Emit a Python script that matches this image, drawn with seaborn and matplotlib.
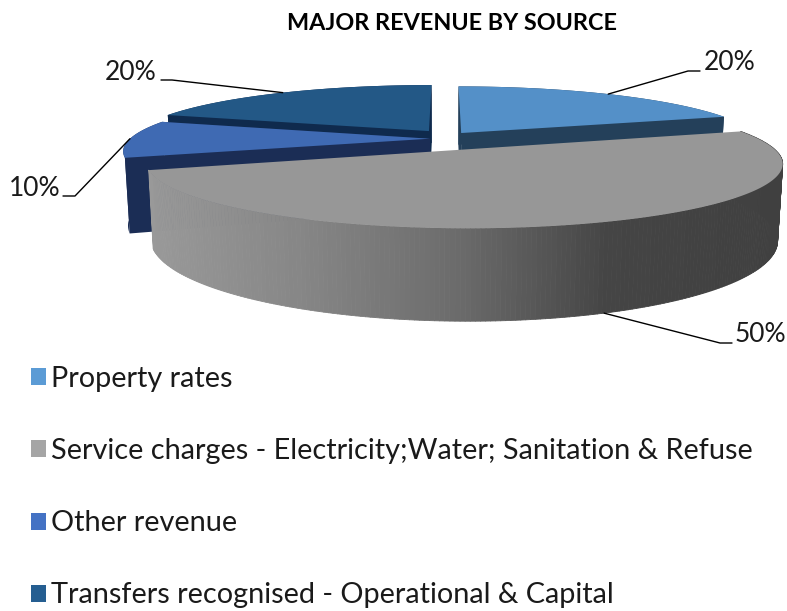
import numpy as np
import matplotlib
matplotlib.use('Agg')
import matplotlib.pyplot as plt
from matplotlib.patches import Patch
from matplotlib.collections import PolyCollection
import seaborn as sns

# Chart data
categories = ['Property rates',
              'Service charges - Electricity;Water; Sanitation & Refuse',
              'Other revenue',
              'Transfers recognised - Operational & Capital']
shares = [20, 50, 10, 20]

# Colours: legend, top face, side wall
legend_colors = ['#5b9bd5', '#a5a5a5', '#4472c4', '#255e91']
top_colors = ['#5490c8', '#979797', '#3f6ab3', '#235886']
wall_colors = ['#24405a', '#979797', '#1b2d55', '#0f2a4d']

sns.set_theme(style='white')
plt.rcParams['font.family'] = ['Lato', 'DejaVu Sans']

fig, ax = plt.subplots(figsize=(7.87, 6.11), dpi=100)
ax.set_position([0, 0, 1, 1])
ax.set_xlim(0, 787)
ax.set_ylim(611, 0)
ax.axis('off')

# Perspective camera for the tilted pie
CX, CY, RX, RY, K = 445, 138.7, 300, 58, 0.2
DEPTH, SHRINK = 71, 0.985
explode = [(0.055, 0.10), (0.06, -0.18), (-0.05, 0.0), (-0.055, 0.135)]


def project(x, y, down=False):
    s = 1 / (1 + K * y)
    px = RX * x * s
    py = -RY * y * s
    if down:
        return CX + px * SHRINK, CY + py + DEPTH * s
    return CX + px, CY + py


def rim(i, t0, t1, n=120):
    t = np.radians(np.linspace(t0, t1, n))
    return explode[i][0] + np.sin(t), explode[i][1] + np.cos(t)


def slab(i, t0, t1, color):
    # top face and flat side walls of one slice
    ex, ey = explode[i]
    xs, ys = rim(i, t0, t1)
    for t in (t0, t1):
        a = np.radians(t)
        rx, ry = ex + np.sin(a), ey + np.cos(a)
        p0 = project(ex, ey)
        p1 = project(rx, ry)
        p2 = project(rx, ry, True)
        p3 = project(ex, ey, True)
        ax.fill([p0[0], p1[0], p2[0], p3[0]], [p0[1], p1[1], p2[1], p3[1]],
                color=wall_colors[i], lw=0)
    tx, ty = project(xs, ys)
    bx, by = project(xs, ys, True)
    ax.fill(np.r_[tx, bx[::-1]], np.r_[ty, by[::-1]], color=wall_colors[i], lw=0)
    px, py = project(ex, ey)
    ax.fill(np.r_[px, tx], np.r_[py, ty], color=color, lw=0)


fractions = np.array(shares) / sum(shares) * 360
starts = np.r_[0, np.cumsum(fractions)[:-1]]
ends = starts + fractions

# back slices first, the big front slice goes on top
for i in [3, 2, 0]:
    slab(i, starts[i], ends[i], top_colors[i])

# service charges wall has a left to right shading
xs, ys = rim(1, starts[1], ends[1], 240)
tx, ty = project(xs, ys)
bx, by = project(xs, ys, True)
ramp = sns.blend_palette(['#404040', '#454545', '#6c6c6c', '#868686', '#999999'], 256)
pos = np.interp(0.5 * (tx[:-1] + tx[1:]), [150, 700, 785], [1, 0.1, 0])
quads = [[(tx[j], ty[j]), (tx[j + 1], ty[j + 1]), (bx[j + 1], by[j + 1]), (bx[j], by[j])]
         for j in range(len(tx) - 1)]
cols = [ramp[int(v * 255)] for v in pos]
ax.add_collection(PolyCollection(quads, facecolors=cols, edgecolors=cols, linewidths=0.6))
px, py = project(*explode[1])
ax.fill(np.r_[px, tx], np.r_[py, ty], color=top_colors[1], lw=0)

# Percent labels with leader lines from the middle of each slice
label_pos = [(730, 62), (760, 335), (35, 189), (131, 73)]
elbows = [[(688, 71), (700, 71)], [(720, 343), (732, 343)],
          [(75, 196), (63, 196)], [(172, 80), (161, 80)]]
leader_shift = [0, -3, 0, 0]
for i in range(4):
    mid = starts[i] + fractions[i] / 2 + leader_shift[i]
    a = np.radians(mid)
    start = project(explode[i][0] + np.sin(a), explode[i][1] + np.cos(a), i == 1)
    pts = [start] + elbows[i]
    ax.plot([p[0] for p in pts], [p[1] for p in pts], color='black', lw=1)
    ax.text(label_pos[i][0], label_pos[i][1], f'{shares[i]}%', ha='center', va='center',
            fontsize=19, color='#1a1a1a')

ax.text(452, 24, 'MAJOR REVENUE BY SOURCE', ha='center', va='center',
        fontsize=16.8, fontweight='bold', color='black')

handles = [Patch(facecolor=c, edgecolor='none') for c in legend_colors]
ax.legend(handles, categories, loc='upper left', bbox_to_anchor=(31, 366),
          bbox_transform=ax.transData, frameon=False, fontsize=20.75,
          handlelength=0.53, handleheight=0.53, handletextpad=0.17,
          labelspacing=1.6, borderpad=0, borderaxespad=0, labelcolor='#1a1a1a')

fig.savefig('out.png', dpi=100)
